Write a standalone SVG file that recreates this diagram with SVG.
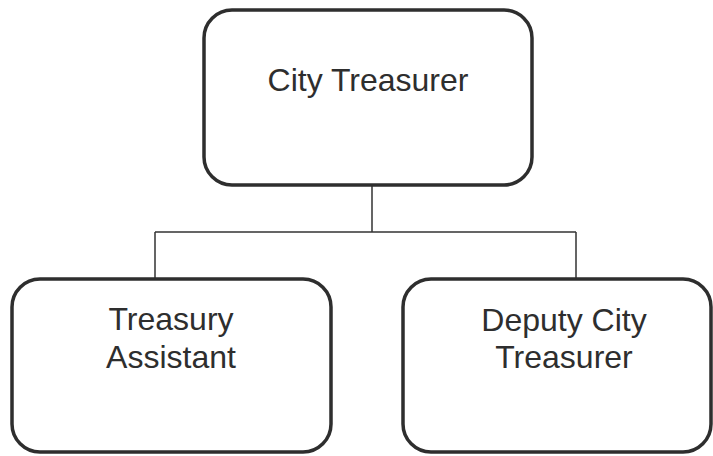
<svg xmlns="http://www.w3.org/2000/svg" width="713" height="456" viewBox="0 0 713 456">
  <style>
    .box { fill: #ffffff; stroke: #2e2e2e; stroke-width: 3.5; }
    .lbl { font-family: "Liberation Sans", Arial, sans-serif; font-size: 32px; fill: #2e2e2e; text-anchor: middle; }
    .wire { fill: none; stroke: #333333; stroke-width: 1.5; }
  </style>
  <rect width="713" height="456" fill="#ffffff"/>

  <!-- connectors -->
  <g id="connectors">
    <path class="wire" d="M372 185 V232 M155 232 H576 M155 232 V279 M576 232 V279"/>
  </g>

  <g id="city-treasurer">
    <rect class="box" x="204" y="10" width="328" height="175" rx="28" ry="28"/>
    <text class="lbl" x="368" y="91">City Treasurer</text>
  </g>

  <g id="treasury-assistant">
    <rect class="box" x="12" y="279" width="319" height="173" rx="28" ry="28"/>
    <text class="lbl" x="171" y="330">Treasury</text>
    <text class="lbl" x="171" y="368">Assistant</text>
  </g>

  <g id="deputy-city-treasurer">
    <rect class="box" x="403" y="279" width="308" height="173" rx="28" ry="28"/>
    <text class="lbl" x="564" y="331">Deputy City</text>
    <text class="lbl" x="564" y="368">Treasurer</text>
  </g>
</svg>
